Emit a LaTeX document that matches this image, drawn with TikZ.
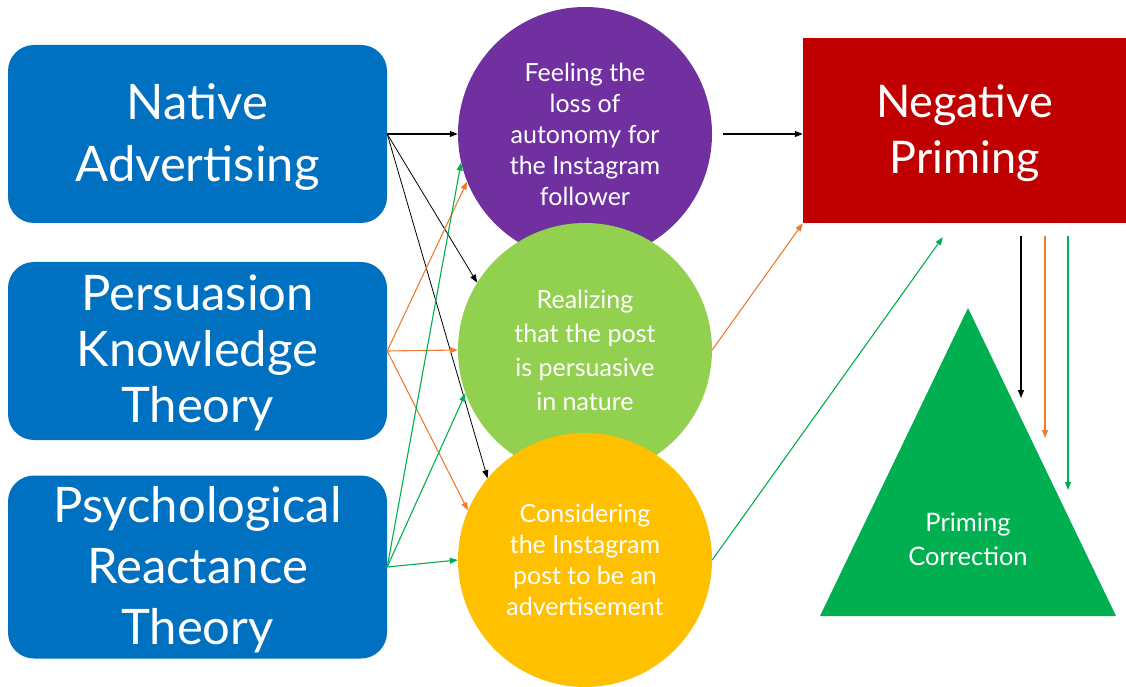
\documentclass[tikz,border=0pt]{standalone}
\usepackage{fontspec}
\setmainfont{Lato}
\usetikzlibrary{calc, positioning, arrows.meta}

\definecolor{boxblue}{HTML}{0070C0}
\definecolor{feelpurple}{HTML}{7030A0}
\definecolor{realgreen}{HTML}{92D050}
\definecolor{consyellow}{HTML}{FFC000}
\definecolor{primred}{HTML}{C00000}
\definecolor{corrgreen}{HTML}{00B050}
\definecolor{arrorange}{HTML}{ED7D31}

% centred lines, set a little lower than the node centre
\newcommand{\lowlines}[1]{\raisebox{-4pt}[\height][\depth]{\begin{tabular}{@{}c@{}}#1\end{tabular}}}

\begin{document}
\begin{tikzpicture}[x=1pt, y=1pt,
    theory/.style={fill=boxblue, text=white, rounded corners=26pt, minimum width=379pt,
      minimum height=178pt, inner sep=0pt, font=\fontsize{49}{#1}\selectfont},
    theory/.default=60,
    effect/.style={circle, text=white, minimum size=254pt, inner sep=0pt, align=center,
      font=\fontsize{25}{#1}\selectfont},
    effect/.default=31,
    link/.style={-{Triangle[length=8pt, width=6pt]}, line width=1.1pt},
  ]
  \useasboundingbox (0,0) rectangle (1126,686);

  % three theories on the left
  \node[theory=62] (nat) at (197.5,552) {\lowlines{Native\\Advertising}};
  \node[theory=56] (pkt) at (197.5,335) {\lowlines{Persuasion\\Knowledge\\Theory}};
  \node[theory=61] (prt) at (197.5,119) {\lowlines{Psychological\\Reactance\\Theory}};

  % the three effects, drawn top to bottom so each overlaps the one above
  \node[effect, fill=feelpurple] (feel) at (585,552) {Feeling the\\loss of\\autonomy for\\the Instagram\\follower};
  \node[effect=34, fill=realgreen] (real) at (585,336) {Realizing\\that the post\\is persuasive\\in nature};
  \node[effect, fill=consyellow] (cons) at (585,126) {Considering\\the Instagram\\post to be an\\advertisement};

  % outcome box and the correction triangle
  \node[fill=primred, text=white, minimum width=323pt, minimum height=185pt, inner sep=0pt,
    font=\fontsize{45}{56}\selectfont] (neg) at (964.5,555.5) {\lowlines{Negative\\Priming}};
  \fill[corrgreen] (968,378) -- (1116,70) -- (820,70) -- cycle;
  \node[text=white, align=center, font=\fontsize{25.5}{34}\selectfont] (corr) at (968,147) {Priming\\Correction};

  % free ends: below the red box and above the triangle
  \coordinate (aim) at ($(neg.south west)+(140,-14)$);
  \coordinate (top1) at (1021,450);
  \coordinate (top2) at (1045,450);
  \coordinate (top3) at (1068,450);
  \coordinate (end1) at (1021,288);
  \coordinate (end2) at (1045,248);
  \coordinate (end3) at (1068,196);

  % native advertising
  \draw[link] (nat.east) -- (feel.west);
  \draw[link, line width=0.8pt] (nat.east) -- (real.148);
  \draw[link, line width=0.8pt] (nat.east) -- (cons.140);
  % persuasion knowledge
  \draw[link, arrorange] (pkt.east) -- (feel.202);
  \draw[link, arrorange] (pkt.east) -- (real.west);
  \draw[link, arrorange] (pkt.east) -- (cons.157);
  % reactance
  \draw[link, corrgreen] (prt.east) -- (feel.193);
  \draw[link, corrgreen] (prt.east) -- (real.200);
  \draw[link, corrgreen] (prt.east) -- (cons.west);

  % into negative priming
  \draw[link, shorten <=11pt] (feel.east) -- (feel.east -| neg.west);
  \draw[link, arrorange] (real.east) -- (neg.south west);
  \draw[link, corrgreen] (cons.east) -- (aim);

  % down towards the correction
  \draw[link] (top1) -- (end1);
  \draw[link, arrorange] (top2) -- (end2);
  \draw[link, corrgreen] (top3) -- (end3);
\end{tikzpicture}
\end{document}
